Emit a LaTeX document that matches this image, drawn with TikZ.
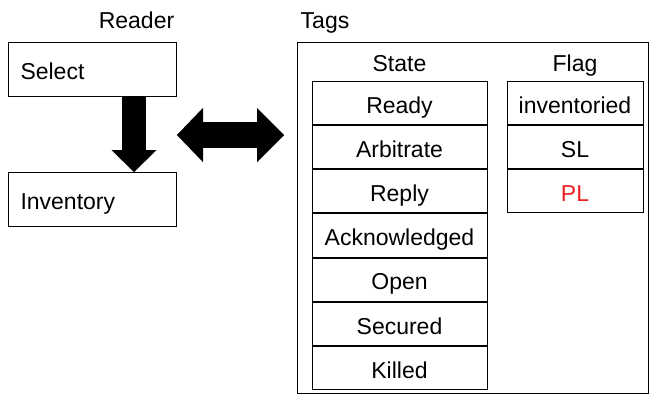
\documentclass[tikz,border=0pt]{standalone}
\usepackage{fontspec}
\setmainfont{Liberation Sans}
\usetikzlibrary{arrows.meta,positioning}
\definecolor{plred}{RGB}{235,30,36}
\begin{document}
\begin{tikzpicture}[x=1bp,y=-1bp,
  font=\fontsize{23bp}{27bp}\selectfont,
  every node/.style={text height=20.5bp,text depth=0bp},
  frame/.style={draw,line width=1bp,inner sep=0pt},
  opbox/.style={frame,anchor=north west,minimum width=168bp,minimum height=54bp,
    align=left,text width=144bp,inner xsep=12bp},
  cell/.style={frame,minimum height=43.14bp,anchor=north},
  statecell/.style={cell,minimum width=175bp},
  flagcell/.style={cell,minimum width=136bp},
  heading/.style={inner sep=0pt},
  block/.style={line width=24bp},
]
\useasboundingbox (0,0) rectangle (650,395);

% reader side
\node[heading] (reader) at (136.5,18) {Reader};
\node[opbox] (select) at (8,42) {Select};
\node[opbox] (inventory) at (8,172) {Inventory};
\draw[block,-{Triangle[length=22bp,width=45bp,line width=0.01bp]}]
  (select.south -| 134,0) -- (inventory.north -| 134,0);

% tags side
\node[heading] (tags) at (325,18) {Tags};
\node[frame,anchor=north west,minimum width=351bp,minimum height=351bp,
  text height=0pt,text depth=0pt] (tagbox) at (297,42) {};

\node[heading] (state) at (399.5,61) {State};
\node[heading] (flag) at (575,61) {Flag};

\node[statecell] (s1) at (399.5,81) {Ready};
\node[statecell,below=0pt of s1] (s2) {Arbitrate};
\node[statecell,below=0pt of s2] (s3) {Reply};
\node[statecell,below=0pt of s3] (s4) {Acknowledged};
\node[statecell,below=0pt of s4] (s5) {Open};
\node[statecell,below=0pt of s5] (s6) {Secured};
\node[statecell,below=0pt of s6] (s7) {Killed};

\node[flagcell] (f1) at (575,81) {inventoried};
\node[flagcell,below=0pt of f1] (f2) {SL};
\node[flagcell,below=0pt of f2,text=plred] (f3) {PL};

% link between reader and tags
\coordinate (linkL) at (177,135);
\coordinate (linkR) at (284,135);
\draw[line width=26bp,
  {Triangle[length=26bp,width=54bp,line width=0.01bp]}-{Triangle[length=27bp,width=54bp,line width=0.01bp]}]
  (linkL) -- (linkR);
\end{tikzpicture}
\end{document}
